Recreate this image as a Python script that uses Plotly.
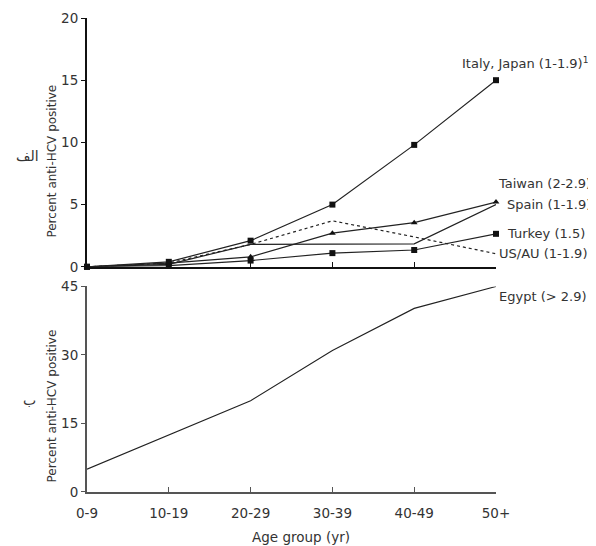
import plotly.graph_objects as go

age_groups = ["0-9", "10-19", "20-29", "30-39", "40-49", "50+"]

italy_japan = [0.0, 0.4, 2.1, 5.0, 9.8, 15.0]
taiwan = [0.0, 0.2, 1.8, 1.85, 1.85, 5.0]
spain = [0.0, 0.3, 0.8, 2.7, 3.55, 5.2]
turkey = [0.0, 0.1, 0.5, 1.1, 1.35, 2.65]
us_au = [0.0, 0.3, 1.8, 3.7, 2.4, 1.05]
egypt = [5.0, 12.5, 20.0, 31.0, 40.2, 45.0]

top_labels = ["Italy, Japan (1-1.9)<sup>1</sup>", "Taiwan (2-2.9)", "Spain (1-1.9)",
              "Turkey (1.5)", "US/AU (1-1.9)"]
bottom_label = "Egypt (> 2.9)"

FONT = "DejaVu Sans"
FS = 13.5
LFS = 13
TXT = "#333333"
LINE = "#222222"

x = list(range(len(age_groups)))

fig = go.Figure()

def add(y, dash="solid", symbol=None, axis="1", width=1.2):
    fig.add_trace(go.Scatter(
        x=x, y=y, mode="lines+markers" if symbol else "lines",
        line=dict(color=LINE, width=width, dash=dash),
        marker=dict(symbol=symbol, size=6, color="#111111") if symbol else None,
        xaxis="x" if axis == "1" else "x2", yaxis="y" if axis == "1" else "y2",
        showlegend=False, cliponaxis=False, hoverinfo="skip"))

add(us_au, dash="dot")
add(taiwan)
add(turkey, symbol="square")
add(spain, symbol="triangle-up")
add(italy_japan, symbol="square")
add(egypt, axis="2", width=1.1)

# page body has an 8px margin: figure is offset by (8, 8)
T, B, H = 2, 54, 538
AREA = H - T - B
BOT = 492  # viewport y of bottom axis
top_dom = [(BOT - 263) / AREA, 1.0]
bot_dom = [0.0, (BOT - 283) / AREA]

def py(v):  # viewport y -> paper fraction
    return (BOT - v) / AREA

axis_common = dict(showgrid=False, zeroline=False, showline=True, linewidth=2,
                   tickfont=dict(family=FONT, size=FS, color=TXT))

fig.update_layout(
    width=588, height=H,
    margin=dict(l=79, r=100, t=T, b=B),
    paper_bgcolor="white", plot_bgcolor="white",
    font=dict(family=FONT, size=FS, color=TXT),
    xaxis=dict(domain=[0, 1], anchor="y", range=[0, 5], tickvals=x, showticklabels=False,
               ticks="inside", ticklen=5, tickcolor="#111111", linecolor="#111111",
               **axis_common),
    yaxis=dict(domain=top_dom, anchor="x", range=[0, 20], tickvals=[0, 5, 10, 15, 20],
               ticks="outside", ticklen=4, tickcolor="#111111", linecolor="#111111",
               **axis_common),
    xaxis2=dict(domain=[0, 1], anchor="y2", range=[0, 5], tickvals=x, ticktext=age_groups,
                ticks="inside", ticklen=5, tickcolor="#555555", linecolor="#555555",
                ticklabelstandoff=8, **axis_common),
    yaxis2=dict(domain=bot_dom, anchor="x2", range=[0, 45], tickvals=[0, 15, 30, 45],
                ticks="outside", ticklen=4, tickcolor="#555555", linecolor="#555555",
                **axis_common),
)

# series labels
label_y = [16.4, 6.7, 5.0, 2.7, 1.1]
label_shift = [-36, 0, 9, 9, 1]
for txt, ly, sh in zip(top_labels, label_y, label_shift):
    fig.add_annotation(x=5, y=ly, xref="x", yref="y", text=txt, showarrow=False,
                       xanchor="left", xshift=sh, font=dict(family=FONT, size=LFS, color=TXT))
fig.add_annotation(x=5, y=42.7, xref="x2", yref="y2", text=bottom_label, showarrow=False,
                   xanchor="left", xshift=1, font=dict(family=FONT, size=LFS, color=TXT))

# axis titles
for yc in (py(156), py(405)):
    fig.add_annotation(x=0, y=yc, xref="paper", yref="paper", text="Percent anti-HCV positive",
                       textangle=-90, showarrow=False, xanchor="center", yanchor="middle",
                       xshift=-35, font=dict(family=FONT, size=12, color=TXT))
fig.add_annotation(x=(301 - 87) / 409, y=0, xref="paper", yref="paper", text="Age group (yr)",
                   showarrow=False, yanchor="middle", yshift=-45,
                   font=dict(family=FONT, size=FS, color=TXT))

# panel letters
fig.add_annotation(x=0, y=py(150), xref="paper", yref="paper", text="الف",
                   showarrow=False, xanchor="center", yanchor="middle", xshift=-60,
                   font=dict(family=FONT, size=14, color=TXT))
fig.add_annotation(x=0, y=py(398), xref="paper", yref="paper", text="ب",
                   showarrow=False, xanchor="center", yanchor="middle", xshift=-58,
                   font=dict(family=FONT, size=14, color=TXT))

fig.write_html("out.html")
